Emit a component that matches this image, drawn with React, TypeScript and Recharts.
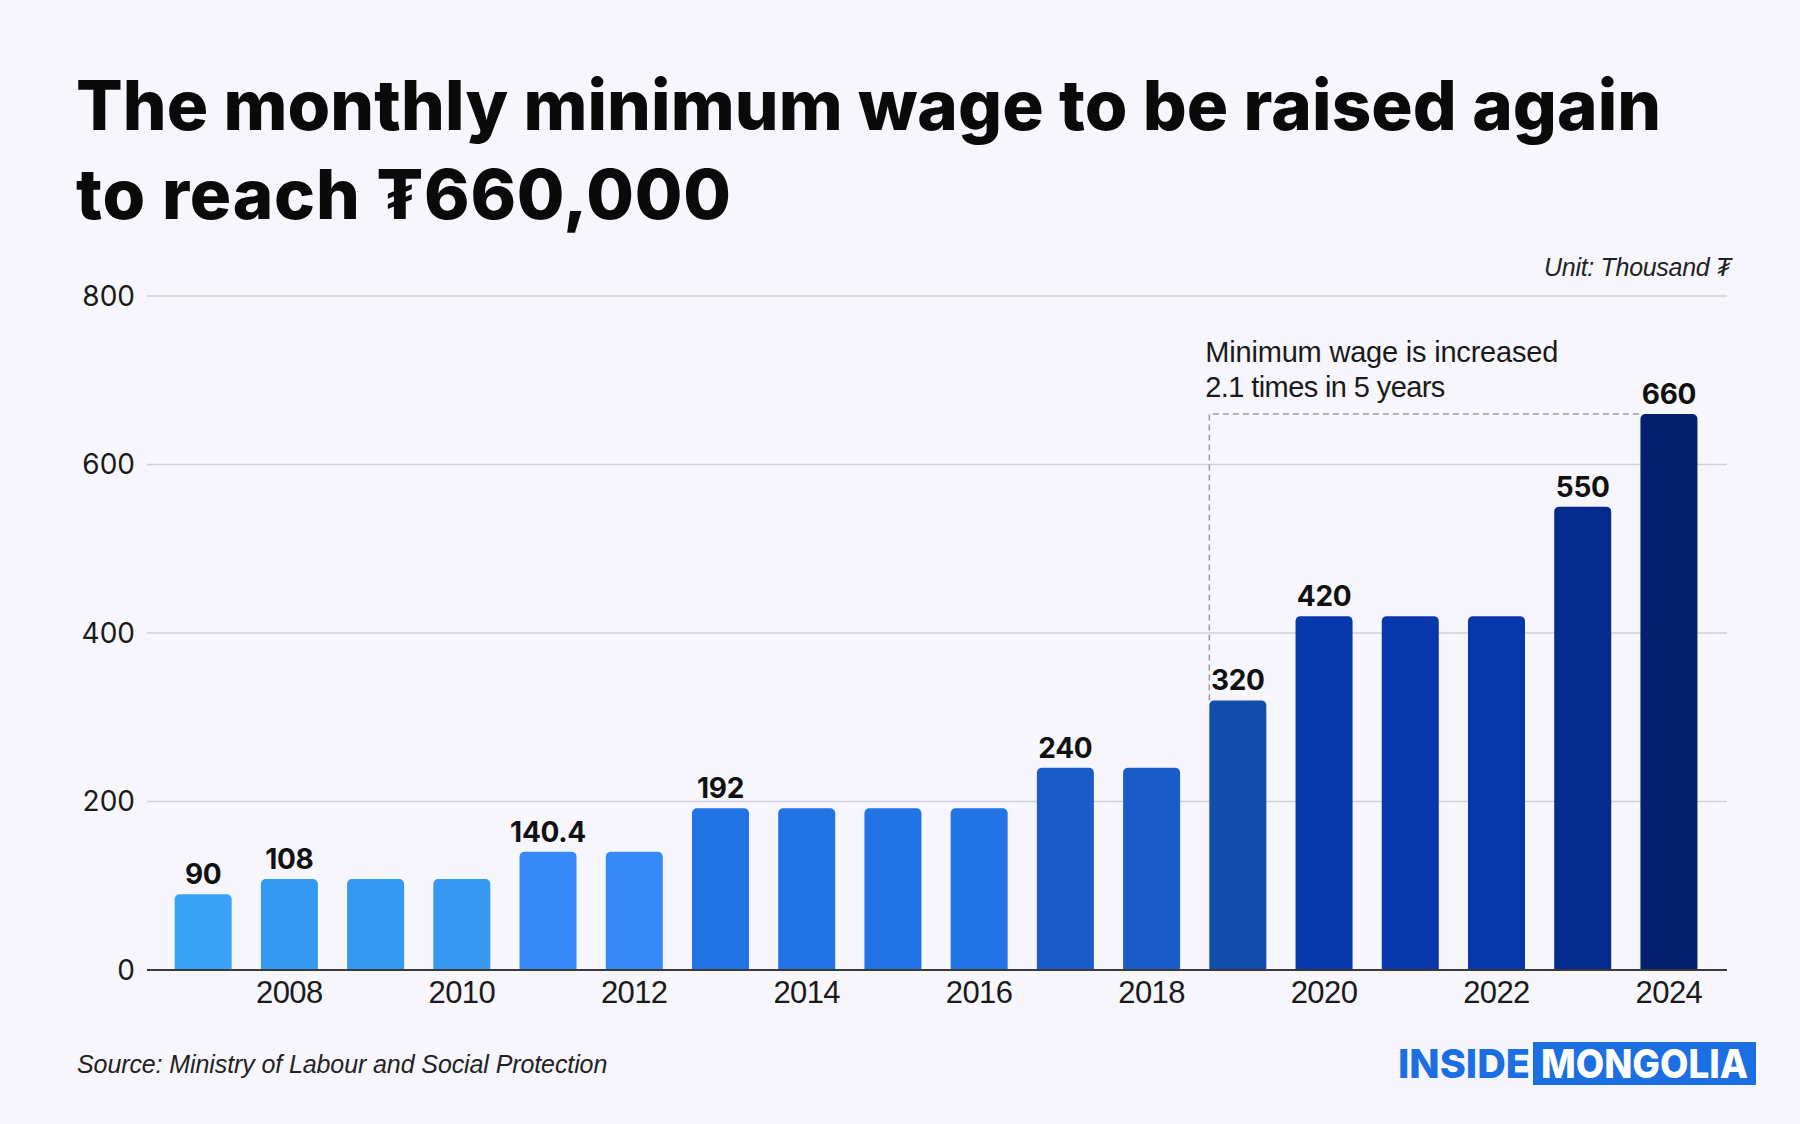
import { Bar, BarChart, CartesianGrid, Cell, LabelList, Rectangle, XAxis, YAxis } from "recharts";

const years = [
  "2007", "2008", "2009", "2010", "2011", "2012", "2013", "2014", "2015",
  "2016", "2017", "2018", "2019", "2020", "2021", "2022", "2023", "2024",
];
const wages = [90, 108, 108, 108, 140.4, 140.4, 192, 192, 192, 192, 240, 240, 320, 420, 420, 420, 550, 660];
const shownLabels = ["90", "108", null, null, "140.4", null, "192", null, null, null, "240", null, "320", "420", null, null, "550", "660"];
const barColors = [
  "#3AA2F7", "#3499F1", "#3499F1", "#3698F1", "#3889F8", "#3889F8", "#2274E6", "#2274E6", "#2274E6",
  "#2274E6", "#1A5DCA", "#1A5BC8", "#124DAE", "#0737AB", "#0737AB", "#0737AB", "#052B8C", "#041F6E",
];
const yTicks = [0, 200, 400, 600, 800];
const xTickYears = ["2008", "2010", "2012", "2014", "2016", "2018", "2020", "2022", "2024"];

// bracket: from 2019 up to the 2024 level
const BRACKET_FROM = "2019";
const BRACKET_VALUE = 660;
const BRACKET_SPAN = 5;
const GAP = 0.17;

const data = years.map((year, i) => ({ year, wage: wages[i], label: shownLabels[i] }));

const BG = "#F6F6FC";

// eslint-disable-next-line @typescript-eslint/no-explicit-any
function WageBar(props: any) {
  const { x, y, width, height, fill, payload } = props;
  const bar = <Rectangle x={x} y={y} width={width} height={height} fill={fill} radius={[5, 5, 0, 0]} />;
  if (payload.year !== BRACKET_FROM) return bar;
  const base = y + height;
  const topY = base - (BRACKET_VALUE / payload.wage) * height;
  const step = width / (1 - 2 * GAP);
  const endX = x + step * BRACKET_SPAN;
  return (
    <g>
      <path d={`M${x},${y} V${topY} H${endX}`} fill="none" stroke="#9A9AA4" strokeWidth={1.5} strokeDasharray="6 4" />
      {bar}
      <text x={x - 4} y={topY - 52} fontSize={29} fill="#1a1a1a" fontFamily="'Liberation Sans', Arial, sans-serif" letterSpacing={-0.2}>
        Minimum wage is increased
      </text>
      <text x={x - 4} y={topY - 17} fontSize={29} fill="#1a1a1a" fontFamily="'Liberation Sans', Arial, sans-serif" letterSpacing={-0.6}>
        2.1 times in 5 years
      </text>
    </g>
  );
}

// eslint-disable-next-line @typescript-eslint/no-explicit-any
function ValueLabel(props: any) {
  const { x, y, width, value } = props;
  if (!value) return null;
  return (
    <text x={x + width / 2} y={y - 10} textAnchor="middle" fontSize={28} fontWeight={700} fill="#111" fontFamily="Inter, sans-serif" letterSpacing={-0.3}>
      {value}
    </text>
  );
}

export default function App() {
  return (
    <div style={{ position: "absolute", left: 0, top: 0, width: 1800, height: 1124, background: BG, overflow: "hidden" }}>
      <BarChart
        width={1800}
        height={1124}
        data={data}
        margin={{ top: 296, right: 73, bottom: 153, left: 146 }}
        barCategoryGap={`${GAP * 100}%`}
      >
        <CartesianGrid vertical={false} stroke="#CFCFD7" strokeWidth={1.5} />
        <YAxis
          domain={[0, 800]}
          ticks={yTicks}
          width={1}
          axisLine={false}
          tickLine={false}
          tickSize={0}
          tickMargin={12}
          tick={{ fontSize: 28, fill: "#1a1a1a", fontFamily: "Inter, sans-serif" }}
        />
        <XAxis
          dataKey="year"
          height={1}
          interval={0}
          padding={{ left: 13, right: 15 }}
          tickLine={false}
          tickSize={0}
          tickMargin={11}
          axisLine={{ stroke: "#3A3A3A", strokeWidth: 2 }}
          tickFormatter={(v: string) => (xTickYears.includes(v) ? v : "")}
          tick={{ fontSize: 31, fill: "#1a1a1a", fontFamily: "'Liberation Sans', Arial, sans-serif", letterSpacing: -0.6 }}
        />
        <Bar dataKey="wage" shape={WageBar} isAnimationActive={false}>
          {data.map((d, i) => (
            <Cell key={d.year} fill={barColors[i]} />
          ))}
          <LabelList dataKey="label" content={ValueLabel} />
        </Bar>
      </BarChart>

      <svg width={1800} height={1124} style={{ position: "absolute", left: 0, top: 0, pointerEvents: "none" }}>
        <text x={76} y={130} fontSize={69} fontWeight={800} fill="#0a0a0a" fontFamily="Inter, sans-serif" letterSpacing={0.1}>
          The monthly minimum wage to be raised again
        </text>
        <text x={76} y={219} fontSize={69} fontWeight={800} fill="#0a0a0a" fontFamily="Inter, sans-serif" letterSpacing={0.8}>
          to reach ₮660,000
        </text>
        <text x={1731} y={276} textAnchor="end" fontSize={25} fontStyle="italic" fill="#222" fontFamily="'Liberation Sans', Arial, sans-serif" letterSpacing={-0.3}>
          Unit: Thousand ₮
        </text>
        <text x={77} y={1073} fontSize={25} fontStyle="italic" fill="#222" fontFamily="'Liberation Sans', Arial, sans-serif" letterSpacing={-0.1}>
          Source: Ministry of Labour and Social Protection
        </text>
        <text x={1398} y={1078} fontSize={40} fontWeight={800} fill="#1C6FE3" fontFamily="Inter, sans-serif" textLength={132} lengthAdjust="spacingAndGlyphs">
          INSIDE
        </text>
        <rect x={1533} y={1042} width={223} height={43} fill="#1C6FE3" />
        <text x={1541} y={1078} fontSize={40} fontWeight={800} fill="#fff" fontFamily="Inter, sans-serif" textLength={207} lengthAdjust="spacingAndGlyphs">
          MONGOLIA
        </text>
      </svg>
    </div>
  );
}
